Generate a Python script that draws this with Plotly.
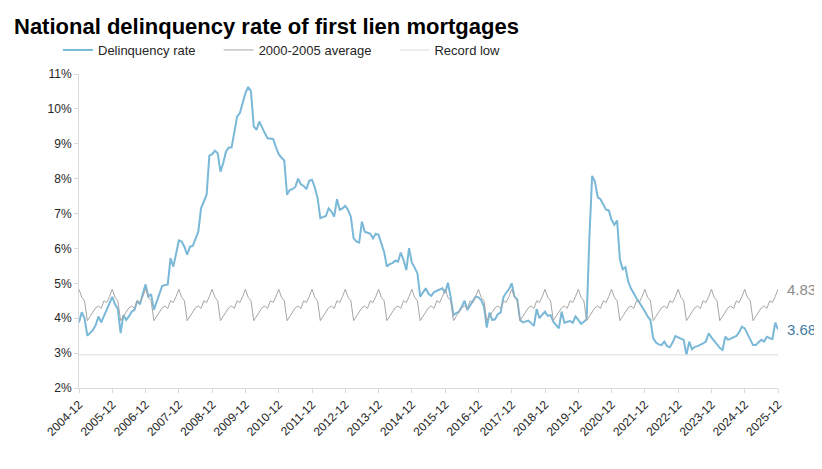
import plotly.graph_objects as go

# Monthly categories 2004-12 .. 2025-12
months = ["2004-12"] + [f"{y}-{m:02d}" for y in range(2005, 2026) for m in range(1, 13)]

# National delinquency rate (%), 2004-12 first
rate_2004 = [3.88]
rate_2005 = [4.17, 4.00, 3.50, 3.58, 3.66, 3.80, 4.05, 3.88, 4.05, 4.22, 4.43, 4.61]
rate_2006 = [4.40, 4.26, 3.57, 4.09, 3.95, 4.05, 4.19, 4.24, 4.50, 4.40, 4.70, 4.97]
rate_2007 = [4.62, 4.69, 4.24, 4.50, 4.70, 4.93, 4.95, 4.97, 5.72, 5.48, 5.85, 6.23]
rate_2008 = [6.20, 6.05, 5.82, 6.05, 6.07, 6.30, 6.48, 7.15, 7.35, 7.54, 8.66, 8.70]
rate_2009 = [8.80, 8.73, 8.20, 8.45, 8.78, 8.89, 8.89, 9.35, 9.78, 9.88, 10.20, 10.45]
rate_2010 = [10.63, 10.50, 9.50, 9.40, 9.64, 9.45, 9.30, 9.16, 9.14, 9.14, 8.90, 8.70]
rate_2011 = [8.60, 8.52, 7.54, 7.68, 7.70, 7.77, 8.00, 7.84, 7.79, 7.70, 7.94, 7.97]
rate_2012 = [7.75, 7.45, 6.87, 6.90, 6.93, 7.15, 7.06, 6.91, 7.41, 7.11, 7.15, 7.22]
rate_2013 = [7.10, 6.91, 6.29, 6.20, 6.17, 6.77, 6.48, 6.45, 6.42, 6.29, 6.42, 6.39]
rate_2014 = [6.15, 5.90, 5.48, 5.55, 5.58, 5.65, 5.62, 5.88, 5.67, 5.38, 6.01, 5.59]
rate_2015 = [5.45, 5.29, 4.62, 4.75, 4.86, 4.70, 4.64, 4.75, 4.79, 4.81, 4.86, 4.72]
rate_2016 = [5.02, 4.60, 4.09, 4.15, 4.19, 4.33, 4.50, 4.24, 4.38, 4.50, 4.62, 4.60]
rate_2017 = [4.52, 4.33, 3.73, 4.16, 3.95, 3.97, 4.12, 4.16, 4.60, 4.73, 4.83, 5.00]
rate_2018 = [4.62, 4.54, 3.95, 3.88, 3.90, 3.93, 3.86, 3.78, 4.26, 4.00, 4.10, 4.19]
rate_2019 = [4.07, 4.09, 3.90, 3.80, 3.71, 4.19, 3.87, 3.90, 3.92, 3.87, 4.05, 3.95]
rate_2020 = [3.84, 3.90, 3.97, 6.30, 8.08, 7.92, 7.47, 7.41, 7.25, 7.11, 7.09, 6.82]
rate_2021 = [6.68, 6.80, 5.69, 5.40, 5.46, 5.05, 4.85, 4.70, 4.57, 4.45, 4.33, 4.20]
rate_2022 = [4.05, 3.95, 3.43, 3.30, 3.25, 3.23, 3.33, 3.20, 3.17, 3.30, 3.49, 3.45]
rate_2023 = [3.43, 3.38, 2.95, 3.33, 3.11, 3.18, 3.20, 3.23, 3.28, 3.33, 3.57, 3.45]
rate_2024 = [3.35, 3.22, 3.15, 3.09, 3.47, 3.38, 3.42, 3.45, 3.49, 3.60, 3.76, 3.71]
rate_2025 = [3.55, 3.35, 3.23, 3.23, 3.30, 3.38, 3.33, 3.47, 3.43, 3.40, 3.87, 3.68]

delinquency = (rate_2004 + rate_2005 + rate_2006 + rate_2007 + rate_2008 + rate_2009
               + rate_2010 + rate_2011 + rate_2012 + rate_2013 + rate_2014 + rate_2015
               + rate_2016 + rate_2017 + rate_2018 + rate_2019 + rate_2020 + rate_2021
               + rate_2022 + rate_2023 + rate_2024 + rate_2025)

# 2000-2005 average by calendar month (Jan..Dec), %
avg_by_month = [4.60, 4.50, 3.93, 4.05, 4.18, 4.30, 4.35, 4.28, 4.50, 4.45, 4.62, 4.83]
avg_series = [avg_by_month[int(m[5:]) - 1] for m in months]

record_low = 2.95
record_series = [record_low for _ in months]

tick_labels = [f"{y}-12" for y in range(2004, 2026)]

BLUE = "#7ab8d8"
GRAY = "#a6a6a6"
LIGHT = "#dcdcdc"
FONT = "Arial, Liberation Sans, sans-serif"
NB = "\u00a0"

W, H = 814, 461

fig = go.Figure()
fig.add_trace(go.Scatter(x=months, y=delinquency, mode="lines",
                         name="Delinquency rate" + NB * 5,
                         line=dict(color=BLUE, width=2)))
fig.add_trace(go.Scatter(x=months, y=avg_series, mode="lines",
                         name="2000-2005 average" + NB * 5,
                         line=dict(color=GRAY, width=1)))
fig.add_trace(go.Scatter(x=months, y=record_series, mode="lines", name="Record low",
                         line=dict(color=LIGHT, width=1)))

fig.add_annotation(x=months[-1], y=avg_series[-1], xref="x", yref="y",
                   text=f"{avg_series[-1]:.2f}%", showarrow=False, xanchor="left",
                   xshift=7, font=dict(size=15, color="#8c8c8c", family=FONT))
fig.add_annotation(x=months[-1], y=delinquency[-1], xref="x", yref="y",
                   text=f"{delinquency[-1]:.2f}%", showarrow=False, xanchor="left",
                   xshift=7, font=dict(size=15, color="#3f7ea6", family=FONT))

fig.update_layout(
    width=W, height=H,
    paper_bgcolor="white", plot_bgcolor="white",
    margin=dict(l=71, r=44, t=66, b=81, autoexpand=False),
    font=dict(family=FONT, color="#262626"),
    title=dict(text="<b>National delinquency rate of first lien mortgages</b>",
               x=6 / W, xanchor="left", xref="container",
               y=1 - 18 / H, yanchor="middle", yref="container",
               font=dict(size=22, color="black", family=FONT)),
    legend=dict(orientation="h", x=50 / W, xanchor="left", xref="container",
                y=1 - 42 / H, yanchor="middle", yref="container",
                font=dict(size=13, color="#262626", family=FONT),
                bgcolor="rgba(0,0,0,0)"),
    showlegend=True,
)
fig.update_xaxes(type="category", range=[0, len(months) - 1],
                 tickmode="array", tickvals=tick_labels, ticktext=tick_labels,
                 tickangle=-45, tickfont=dict(size=12, color="#262626"),
                 showgrid=False, showline=True, linecolor="#d9d9d9", linewidth=1,
                 ticks="outside", ticklen=4, tickcolor="#d9d9d9", zeroline=False,
                 automargin=False)
fig.update_yaxes(range=[2, 11], dtick=1, ticksuffix="%",
                 tickfont=dict(size=12, color="#262626"),
                 showgrid=False, showline=True, linecolor="#d9d9d9", linewidth=1,
                 ticks="outside", ticklen=4, tickcolor="#d9d9d9", zeroline=False,
                 automargin=False)

fig.write_html("out.html")
